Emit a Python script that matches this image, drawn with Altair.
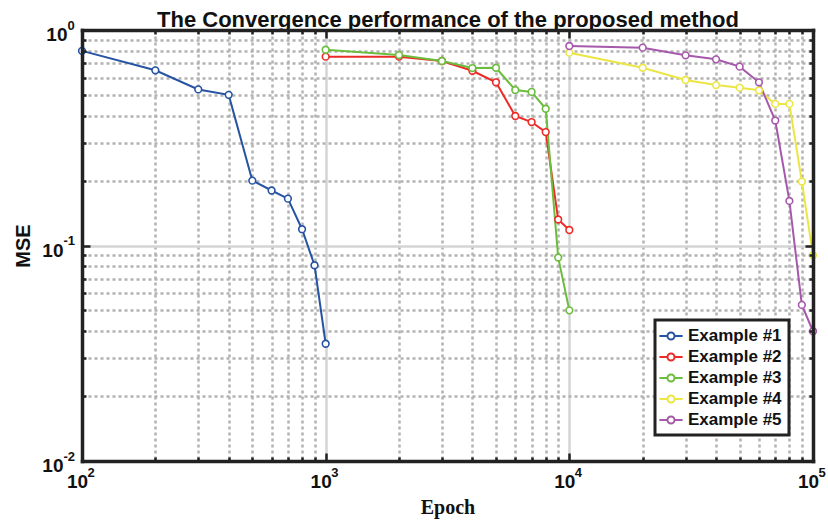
import altair as alt
import pandas as pd

# ---- data ----
series_names = ["Example #1", "Example #2", "Example #3", "Example #4", "Example #5"]
series_colors = ["#2753A3", "#EC2B27", "#6CBC3D", "#EBE645", "#A659AB"]

epochs_1 = [100, 200, 300, 400, 500, 600, 700, 800, 900, 1000]
mse_1 = [0.80, 0.65, 0.53, 0.50, 0.20, 0.18, 0.165, 0.119, 0.081, 0.035]

epochs_2 = [1000, 2000, 3000, 4000, 5000, 6000, 7000, 8000, 9000, 10000]
mse_2 = [0.752, 0.752, 0.718, 0.647, 0.572, 0.399, 0.374, 0.336, 0.132, 0.118]

epochs_3 = [1000, 2000, 3000, 4000, 5000, 6000, 7000, 8000, 9000, 10000]
mse_3 = [0.81, 0.765, 0.718, 0.666, 0.668, 0.527, 0.516, 0.431, 0.088, 0.050]

epochs_4 = [10000, 20000, 30000, 40000, 50000, 60000, 70000, 80000, 90000, 100000]
mse_4 = [0.785, 0.668, 0.586, 0.555, 0.540, 0.525, 0.454, 0.454, 0.198, 0.090]

epochs_5 = [10000, 20000, 30000, 40000, 50000, 60000, 70000, 80000, 90000, 100000]
mse_5 = [0.843, 0.828, 0.763, 0.731, 0.676, 0.572, 0.380, 0.161, 0.053, 0.040]

x_tick_values = [100, 200, 300, 400, 500, 600, 700, 800, 900,
                 1000, 2000, 3000, 4000, 5000, 6000, 7000, 8000, 9000,
                 10000, 20000, 30000, 40000, 50000, 60000, 70000, 80000, 90000,
                 100000]
y_tick_values = [0.01, 0.02, 0.03, 0.04, 0.05, 0.06, 0.07, 0.08, 0.09,
                 0.1, 0.2, 0.3, 0.4, 0.5, 0.6, 0.7, 0.8, 0.9, 1]
x_decades = [100, 1000, 10000, 100000]
x_exponents = ["2", "3", "4", "5"]
y_decades = [1, 0.1, 0.01]
y_exponents = ["0", "-1", "-2"]

chart_title = "The Convergence performance of the proposed method"

rows = []
for name, ep, ms in zip(series_names,
                        [epochs_1, epochs_2, epochs_3, epochs_4, epochs_5],
                        [mse_1, mse_2, mse_3, mse_4, mse_5]):
    for i, (e, m) in enumerate(zip(ep, ms)):
        rows.append({"series": name, "epoch": e, "mse": m, "order": i})
df = pd.DataFrame(rows)

W, H = 731, 431
FONT = "Liberation Sans"
INK = "#111111"
FRAME = "#222222"

x_scale = alt.Scale(type="log", domain=[100, 100000], nice=False)
y_scale = alt.Scale(type="log", domain=[0.01, 1], nice=False)

x_major = " || ".join(f"datum.value == {v}" for v in x_decades)
y_major = " || ".join(f"datum.value == {v}" for v in y_decades)


def label_expr(decades, texts):
    expr = "''"
    for v, t in reversed(list(zip(decades, texts))):
        expr = f"datum.value == {v} ? '{t}' : ({expr})"
    return expr


grid_dash_x = {"condition": {"test": x_major, "value": []}, "value": [3, 3]}
grid_dash_y = {"condition": {"test": y_major, "value": []}, "value": [3, 3]}
grid_col_x = {"condition": {"test": x_major, "value": "#d4d4d4"}, "value": "#b2b2b2"}
grid_col_y = {"condition": {"test": y_major, "value": "#d4d4d4"}, "value": "#b2b2b2"}
y_pad = {"condition": {"test": "datum.value == 1", "value": 15}, "value": 19}

# main axes: grid, mantissa "10" labels, titles
main_x_axis = alt.Axis(orient="bottom", values=x_tick_values,
                       labelExpr=label_expr(x_decades, ["10"] * 4),
                       grid=True, gridDash=grid_dash_x, gridColor=grid_col_x, gridWidth=2.5,
                       ticks=False, tickSize=0, domain=False,
                       labelFont=FONT, labelFontSize=19, labelFontWeight="bold",
                       labelColor=INK, labelPadding=11, labelOffset=-5,
                       labelFlush=False, labelOverlap=False, labelBaseline="top",
                       title="Epoch", titleFont="Liberation Serif", titleFontSize=20,
                       titleFontWeight="bold", titleColor=INK, titlePadding=6)
main_y_axis = alt.Axis(orient="left", values=y_tick_values,
                       labelExpr=label_expr(y_decades, ["10"] * 3),
                       grid=True, gridDash=grid_dash_y, gridColor=grid_col_y, gridWidth=2.5,
                       ticks=False, tickSize=0, domain=False,
                       labelFont=FONT, labelFontSize=19, labelFontWeight="bold",
                       labelColor=INK, labelPadding=y_pad, labelOffset=4.5,
                       labelAlign="right", labelBaseline="middle",
                       labelFlush=False, labelOverlap=False,
                       title="MSE", titleFont=FONT, titleFontSize=20,
                       titleFontWeight="bold", titleColor=INK, titlePadding=8)

# exponent (superscript) axes
sup_x_axis = alt.Axis(orient="bottom", values=x_decades,
                      labelExpr=label_expr(x_decades, x_exponents),
                      grid=False, ticks=False, tickSize=0, domain=False,
                      labelFont=FONT, labelFontSize=13, labelFontWeight="bold",
                      labelColor=INK, labelPadding=5, labelOffset=5, labelAlign="left",
                      labelBaseline="top", labelFlush=False, labelOverlap=False, title=None)
sup_y_axis = alt.Axis(orient="left", values=y_decades,
                      labelExpr=label_expr(y_decades, y_exponents),
                      grid=False, ticks=False, tickSize=0, domain=False,
                      labelFont=FONT, labelFontSize=13, labelFontWeight="bold",
                      labelColor=INK, labelPadding=y_pad, labelOffset=-5, labelAlign="left",
                      labelBaseline="middle", labelFlush=False, labelOverlap=False, title=None)

# chart title carried by a bare top axis
title_axis = alt.Axis(orient="top", labels=False, ticks=False, domain=False, grid=False,
                      title=chart_title, titleFont=FONT, titleFontSize=22,
                      titleFontWeight="bold", titleColor=INK,
                      titleBaseline="alphabetic", titlePadding=4)

legend_symbol = ("M-1.45,0H-0.44M0.44,0H1.45"
                 "M-0.44,0A0.44,0.44,0,1,1,0.44,0A0.44,0.44,0,1,1,-0.44,0")

lines = alt.Chart(df).mark_line(
    strokeWidth=2,
    point=alt.OverlayMarkDef(filled=False, fill="white", size=45, strokeWidth=1.6),
).encode(
    x=alt.X("epoch:Q", scale=x_scale, axis=main_x_axis),
    y=alt.Y("mse:Q", scale=y_scale, axis=main_y_axis),
    color=alt.Color("series:N", sort=series_names,
                    scale=alt.Scale(domain=series_names, range=series_colors),
                    legend=alt.Legend(title=None, orient="none", legendX=573, legendY=290,
                                      symbolType=legend_symbol, symbolSize=256,
                                      symbolStrokeWidth=2, symbolFillColor="white",
                                      labelFont=FONT, labelFontSize=17,
                                      labelFontWeight="bold", labelColor=INK,
                                      labelOffset=8, rowPadding=4, padding=7,
                                      strokeColor=FRAME, fillColor="white")),
    detail="series:N",
    order="order:Q",
)

sup_layer = alt.Chart(df).mark_point(opacity=0).encode(
    x=alt.X("epoch:Q", scale=x_scale, axis=sup_x_axis),
    y=alt.Y("mse:Q", scale=y_scale, axis=sup_y_axis),
)

title_layer = alt.Chart(df).mark_point(opacity=0).encode(
    x=alt.X("epoch:Q", scale=x_scale, axis=title_axis),
    y=alt.Y("mse:Q", scale=y_scale, axis=None),
)


def tick_axis(values, major, orient, offset):
    return alt.Axis(orient=orient, offset=offset, values=values,
                    labels=False, grid=False, ticks=True,
                    tickSize={"condition": {"test": major, "value": 8}, "value": 4},
                    tickColor=FRAME, tickWidth=2.5,
                    domain=True, domainColor=FRAME, domainWidth=3.5, domainCap="square",
                    zindex=1, title=None)


# inward ticks + frame: bottom & left edges
ticks_a = alt.Chart(df).mark_point(opacity=0).encode(
    x=alt.X("epoch:Q", scale=x_scale, axis=tick_axis(x_tick_values, x_major, "top", -H)),
    y=alt.Y("mse:Q", scale=y_scale, axis=tick_axis(y_tick_values, y_major, "right", -W)),
)
# inward ticks + frame: top & right edges
ticks_b = alt.Chart(df).mark_point(opacity=0).encode(
    x=alt.X("epoch:Q", scale=x_scale, axis=tick_axis(x_tick_values, x_major, "bottom", -H)),
    y=alt.Y("mse:Q", scale=y_scale, axis=tick_axis(y_tick_values, y_major, "left", -W)),
)

chart = alt.layer(
    lines, sup_layer, title_layer, ticks_a, ticks_b,
).resolve_scale(x="shared", y="shared").resolve_axis(
    x="independent", y="independent"
).properties(
    width=W, height=H,
    autosize=alt.AutoSizeParams(type="none"),
    padding={"left": 82, "top": 30, "right": 15, "bottom": 60},
).configure_view(
    stroke=None
).configure_legend(
    strokeWidth=3
)

chart.save("out.html", embed_options={"renderer": "svg", "actions": False})
